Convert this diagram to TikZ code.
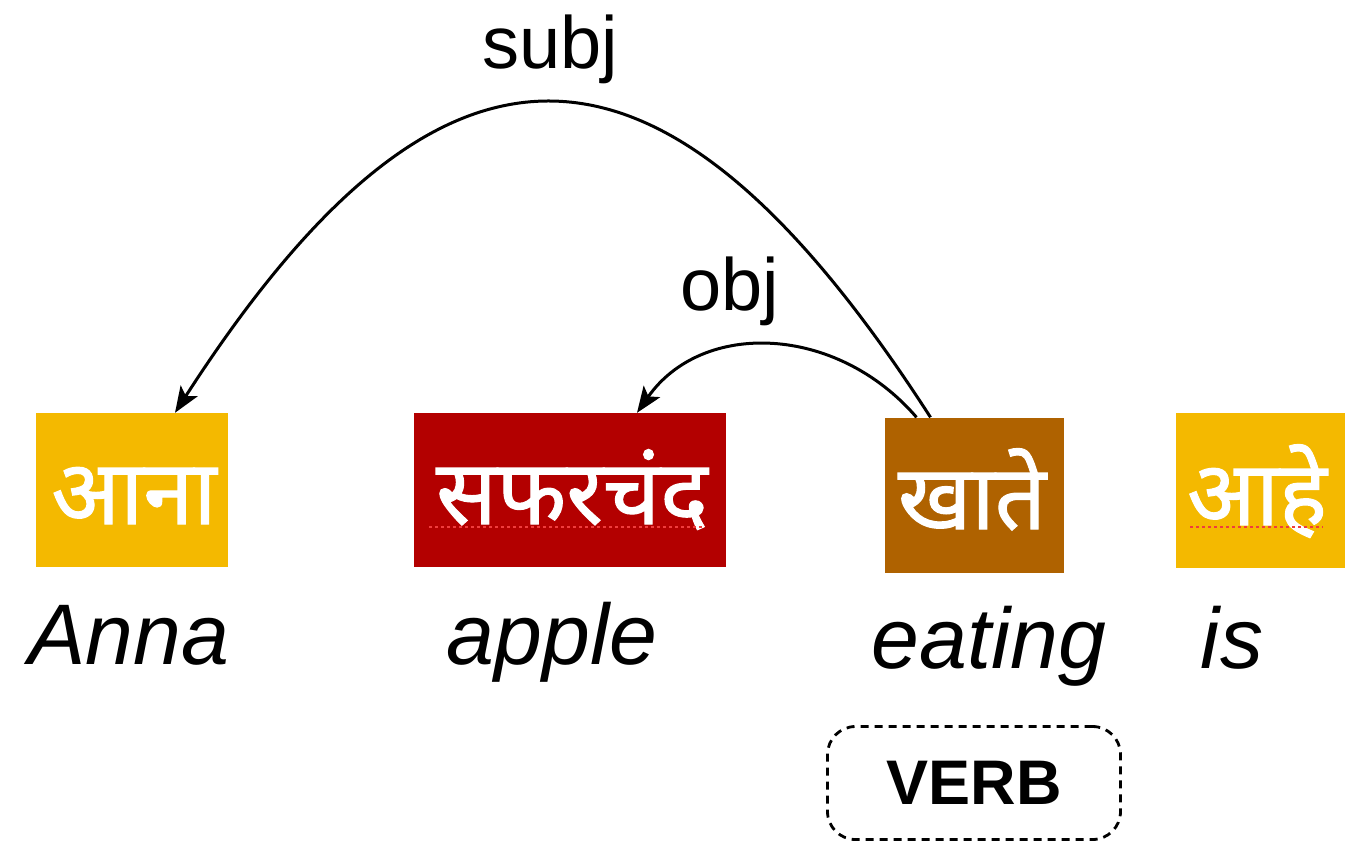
\documentclass[tikz,border=0pt]{standalone}
\usepackage{fontspec}
\setmainfont{Liberation Sans}
\newfontfamily\deva[Script=Devanagari, FakeBold=1.2]{Noto Sans}
\usetikzlibrary{arrows.meta}
\definecolor{amber}{HTML}{F4B900}
\definecolor{crimson}{HTML}{B30000}
\definecolor{ochre}{HTML}{AF6200}
\definecolor{spell}{HTML}{F03C3C}
\begin{document}
\begin{tikzpicture}[x=1pt,y=-1pt,
  box/.style={inner sep=0pt, draw=none},
  devtext/.style={inner sep=0pt, anchor=base, text=white, font=\deva\fontsize{90}{100}\selectfont},
  gloss/.style={anchor=base, inner sep=0pt, font=\itshape\fontsize{86}{100}\selectfont},
  rel/.style={inner sep=0pt, anchor=base, font=\fontsize{74}{90}\selectfont},
  arc/.style={line width=3pt, -{Stealth[length=26pt,width=20pt,inset=6pt]}},
  spellmark/.style={spell, line width=2.6pt, dash pattern=on 2.6pt off 3.4pt}]
\useasboundingbox (0,0) rectangle (1347,844);

% coloured word boxes
\node[box, fill=amber,   minimum width=192pt, minimum height=154pt] (anna)  at (132,490)   {};
\node[box, fill=crimson, minimum width=312pt, minimum height=154pt] (apple) at (570,490)   {};
\node[box, fill=ochre,   minimum width=179pt, minimum height=155pt] (khate) at (974.5,495) {};
\node[box, fill=amber,   minimum width=169pt, minimum height=155pt] (aahe)  at (1260.5,490.5) {};

% Devanagari words
\node[devtext] (annaT)  at (134,524)  {आना};
\node[devtext] (appleT) at (572,524)  {सफरचंद};
\node[devtext] (khateT) at (972,529)  {खाते};
\node[devtext] (aaheT)  at (1257,525) {आहे};

% spell-check marks
\draw[spellmark] (429,527) -- (703,527);
\draw[spellmark] (1190,527) -- (1323,527);

% glosses
\node[gloss] (annaG)  at (129,664)  {Anna};
\node[gloss] (appleG) at (552,664)  {apple};
\node[gloss] (khateG) at (989,668)  {eating};
\node[gloss] (aaheG)  at (1232,668) {is};

% relation labels
\node[rel] (subjL) at (550,68)  {subj};
\node[rel] (objL)  at (730,310) {obj};

% arcs
\draw[arc] ([xshift=-44pt]khate.north) .. controls +(-268,-416) and +(268,-416) .. ([xshift=43pt]anna.north);
\draw[arc] ([xshift=-58pt]khate.north) .. controls +(-80,-93) and +(65,-93) .. ([xshift=67pt]apple.north);

% POS tag
\node[draw, line width=2.8pt, dash pattern=on 8pt off 6pt, rounded corners=28pt,
      minimum width=293pt, minimum height=113pt, inner sep=0pt,
      font=\bfseries\fontsize{63}{70}\selectfont] (verb) at (974,783) {VERB};
\end{tikzpicture}
\end{document}
